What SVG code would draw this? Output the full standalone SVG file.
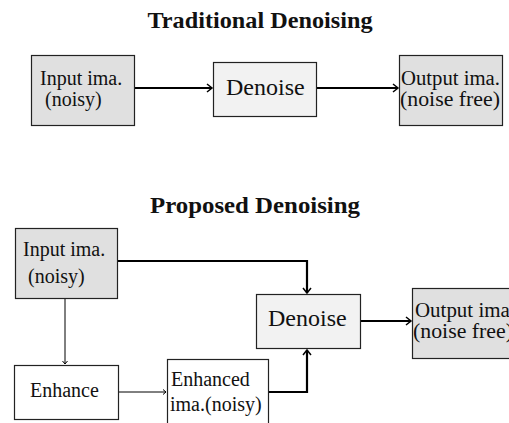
<svg xmlns="http://www.w3.org/2000/svg" width="509" height="423" viewBox="0 0 509 423">
<defs>
<marker id="vh" markerWidth="10" markerHeight="10" refX="8" refY="5" orient="auto" markerUnits="userSpaceOnUse">
<path d="M3,1 L8,5 L3,9" fill="none" stroke="#000" stroke-width="1.5"/>
</marker>
<marker id="vt" markerWidth="8" markerHeight="8" refX="6" refY="4" orient="auto" markerUnits="userSpaceOnUse">
<path d="M3,1.5 L6,4 L3,6.5" fill="none" stroke="#000" stroke-width="1"/>
</marker>
</defs>
<style>
.box{stroke:#222;stroke-width:1.2}
.grey{fill:#e0e0e0}
.light{fill:#f2f2f2}
.white{fill:#fff}
text{font-family:"Liberation Serif","DejaVu Serif",serif;fill:#111}
.t{font-size:20px;font-family:"Liberation Serif","DejaVu Serif",serif}
.big{font-size:24px;font-family:"Liberation Serif","DejaVu Serif",serif}
.title{font-size:23px;font-weight:bold}
.thick{fill:none;stroke:#000;stroke-width:2.2}
.thin{fill:none;stroke:#000;stroke-width:1}
</style>
<rect width="509" height="423" fill="#fff"/>
<text class="title" x="260" y="28" text-anchor="middle" textLength="225" lengthAdjust="spacingAndGlyphs">Traditional Denoising</text>
<text class="title" x="255" y="213" text-anchor="middle" textLength="210" lengthAdjust="spacingAndGlyphs">Proposed Denoising</text>
<g id="connectors">
<path class="thick" d="M134,88 H212" marker-end="url(#vh)"/>
<path class="thick" d="M316,88 H398" marker-end="url(#vh)"/>
<path class="thick" d="M117,261 H307 V293" marker-end="url(#vh)"/>
<path class="thick" d="M268,392 H307 V350" marker-end="url(#vh)"/>
<path class="thick" d="M360,321 H411" marker-end="url(#vh)"/>
<path class="thin" d="M65,298 V364" marker-end="url(#vt)"/>
<path class="thin" d="M118,392 H166" marker-end="url(#vt)"/>
</g>
<g id="trad-input">
<rect class="box grey" x="31.5" y="55.5" width="103" height="70"/>
<text class="t" x="40" y="85">Input ima.</text>
<text class="t" x="45" y="106">(noisy)</text>
</g>
<g id="trad-denoise">
<rect class="box light" x="213.5" y="62.5" width="103" height="54"/>
<text class="big" x="226" y="95">Denoise</text>
</g>
<g id="trad-output">
<rect class="box grey" x="399.5" y="55.5" width="103" height="70"/>
<text class="t" x="401" y="85" textLength="99" lengthAdjust="spacingAndGlyphs">Output ima.</text>
<text class="t" x="400" y="106" textLength="100" lengthAdjust="spacingAndGlyphs">(noise free)</text>
</g>
<g id="prop-input">
<rect class="box grey" x="15.5" y="228.5" width="102" height="70"/>
<text class="t" x="23" y="256">Input ima.</text>
<text class="t" x="28" y="283">(noisy)</text>
</g>
<g id="prop-denoise">
<rect class="box light" x="256.5" y="294.5" width="104" height="54"/>
<text class="big" x="268" y="326">Denoise</text>
</g>
<g id="prop-output">
<rect class="box grey" x="412.5" y="288.5" width="104" height="70"/>
<text class="t" x="415" y="317" textLength="100" lengthAdjust="spacingAndGlyphs">Output ima.</text>
<text class="t" x="413" y="338" textLength="100" lengthAdjust="spacingAndGlyphs">(noise free)</text>
</g>
<g id="enhance">
<rect class="box white" x="14.5" y="365.5" width="104" height="54"/>
<text class="t" x="30" y="397">Enhance</text>
</g>
<g id="enhanced">
<rect class="box white" x="167.5" y="359.5" width="101" height="70"/>
<text class="t" x="171" y="386">Enhanced</text>
<text class="t" x="170" y="411">ima.(noisy)</text>
</g>
</svg>
